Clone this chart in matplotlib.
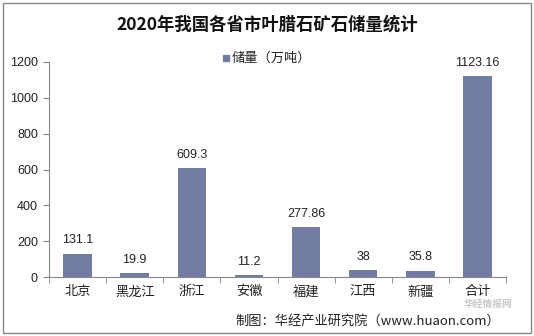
import matplotlib
matplotlib.use("Agg")
import matplotlib.pyplot as plt
from matplotlib.patches import Rectangle

plt.rcParams['font.family'] = ['Liberation Sans', 'Noto Sans CJK SC', 'DejaVu Sans']

categories = ["北京", "黑龙江", "浙江", "安徽", "福建", "江西", "新疆", "合计"]
values = [131.1, 19.9, 609.3, 11.2, 277.86, 38, 35.8, 1123.16]
value_labels = ["131.1", "19.9", "609.3", "11.2", "277.86", "38", "35.8", "1123.16"]
yticks = [0, 200, 400, 600, 800, 1000, 1200]
title = "2020年我国各省市叶腊石矿石储量统计"
legend_label = "储量（万吨）"
source = "制图：华经产业研究院（www.huaon.com）"

W, H = 534, 336
fig = plt.figure(figsize=(W / 100, H / 100), dpi=100)
ax = fig.add_axes([49 / W, 1 - 277 / H, (506 - 49) / W, (277 - 62) / H])

color = "#737CA1"
x = list(range(len(categories)))
ax.bar(x, values, width=0.5, color=color, zorder=2)
for xi, v, lab in zip(x, values, value_labels):
    ax.text(xi, v + 40, lab, ha='center', va='bottom', fontsize=9, color='#222222')

ax.set_xlim(-0.5, len(categories) - 0.5)
ax.set_ylim(0, 1200)
ax.set_yticks(yticks)
ax.set_yticklabels([str(t) for t in yticks], fontsize=9, color='#222222')
ax.set_xticks(x)
ax.set_xticklabels(categories, fontsize=9.5, color='#222222', family=['Noto Sans CJK SC'])
ax.tick_params(axis='x', length=0, pad=6)
ax.set_xticks([i - 0.5 for i in range(len(categories) + 1)], minor=True)
ax.tick_params(axis='x', which='minor', length=4, color='#888888')
ax.tick_params(axis='y', length=4, color='#888888', pad=4)
for s in ['top', 'right']:
    ax.spines[s].set_visible(False)
for s in ['left', 'bottom']:
    ax.spines[s].set_color('#888888')
    ax.spines[s].set_linewidth(0.8)

fig.text(267 / W, 1 - 25 / H, title, ha='center', va='center', fontsize=12.5,
         fontweight='bold', family=['Noto Sans CJK SC'], color='#111111')
# legend
fig.patches.append(Rectangle((223 / W, 1 - 61 / H), 6 / W, 6 / H, transform=fig.transFigure,
                             color=color))
fig.text(232 / W, 1 - 58 / H, legend_label, ha='left', va='center', fontsize=9.5,
         family=['Noto Sans CJK SC'], color='#222222')

# watermark (kept small so it does not cover the labels)
fig.text(488 / W, 1 - 304 / H, "华经情报网", ha='center', va='center', fontsize=7,
         family=['Noto Sans CJK SC'], color='#c8c8c8', fontweight='bold')

fig.text(500 / W, 1 - 321 / H, source, ha='right', va='center', fontsize=9.5,
         family=['Noto Sans CJK SC'], color='#222222')

# border
fig.patches.append(Rectangle((3 / W, 3 / H), (531 - 3) / W, (333 - 3) / H,
                             transform=fig.transFigure, fill=False, edgecolor='#888888',
                             linewidth=1))

fig.savefig("out.png", dpi=100)
